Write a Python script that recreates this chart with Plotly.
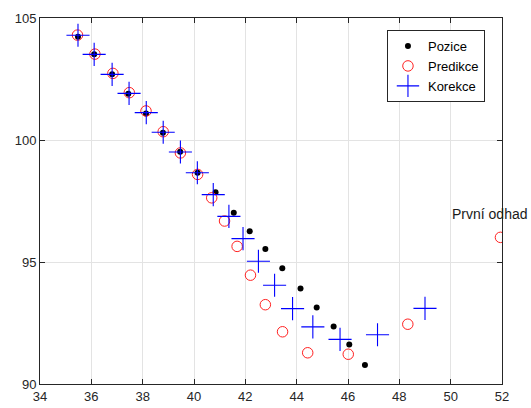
import plotly.graph_objects as go

# Pozice (measured positions)
poz_x = [35.48, 36.11, 36.81, 37.44, 38.13, 38.79, 39.46, 40.14, 40.84, 41.55,
         42.17, 42.78, 43.44, 44.15, 44.78, 45.44, 46.05, 46.66]
poz_y = [104.23, 103.51, 102.69, 101.90, 101.09, 100.30, 99.52, 98.66, 97.86, 97.02,
         96.26, 95.53, 94.74, 93.91, 93.14, 92.36, 91.62, 90.78]

# Predikce (predictions)
pre_x = [35.46, 36.14, 36.84, 37.48, 38.13, 38.80, 39.47, 40.14, 40.69, 41.19,
         41.68, 42.20, 42.78, 43.45, 44.43, 46.01, 48.33, 51.94]
pre_y = [104.30, 103.52, 102.73, 101.94, 101.19, 100.34, 99.47, 98.59, 97.63, 96.68,
         95.64, 94.46, 93.25, 92.14, 91.28, 91.22, 92.45, 96.01]

# Korekce (corrections)
kor_x = [35.48, 36.11, 36.81, 37.47, 38.14, 38.80, 39.47, 40.13, 40.75, 41.36,
         41.91, 42.51, 43.14, 43.84, 44.63, 45.69, 47.15, 49.00]
kor_y = [104.29, 103.51, 102.69, 101.91, 101.12, 100.32, 99.51, 98.66, 97.76, 96.87,
         95.96, 95.03, 94.05, 93.09, 92.34, 91.83, 92.02, 93.10]

first_x, first_y = 52, 96
first_label = "První odhad"

x_ticks = list(range(34, 53, 2))
y_ticks = [90, 95, 100, 105]

FONT = "Liberation Sans, Arial, sans-serif"

fig = go.Figure()
fig.add_trace(go.Scatter(x=poz_x, y=poz_y, mode="markers", name="Pozice",
                         marker=dict(symbol="circle", size=6, color="black")))
fig.add_trace(go.Scatter(x=pre_x, y=pre_y, mode="markers", name="Predikce",
                         marker=dict(symbol="circle-open", size=10.5,
                                     color="#ff2020", line=dict(width=1, color="#ff2020"))))
fig.add_trace(go.Scatter(x=kor_x, y=kor_y, mode="markers", name="Korekce",
                         marker=dict(symbol="cross-thin", size=16.5,
                                     line=dict(width=1.1, color="#0000ff"), color="#0000ff")))

fig.add_annotation(x=first_x, y=first_y, text=first_label, showarrow=False,
                   xanchor="center", yanchor="bottom", xshift=-12, yshift=14,
                   font=dict(size=14, color="#1a1a1a", family=FONT))

axis_common = dict(showgrid=True, gridcolor="#e3e3e3", gridwidth=1,
                   showline=True, linecolor="#262626", linewidth=1, mirror="allticks",
                   ticks="inside", ticklen=5, tickcolor="#262626", automargin=False,
                   zeroline=False, tickfont=dict(size=13, color="#262626", family=FONT))

fig.update_xaxes(range=[34, 52], tickvals=x_ticks, **axis_common)
fig.update_yaxes(range=[90, 105], tickvals=y_ticks, **axis_common)

fig.update_layout(
    width=531, height=408,
    margin=dict(l=40, r=29, t=18, b=24),
    plot_bgcolor="white", paper_bgcolor="white",
    font=dict(family=FONT, size=13, color="#262626"),
    legend=dict(x=0.751, y=0.967, xanchor="left", yanchor="top",
                bgcolor="white", bordercolor="#262626", borderwidth=1,
                font=dict(size=13, color="#000000"), tracegroupgap=0,
                itemwidth=30),
)

fig.write_html("out.html")
